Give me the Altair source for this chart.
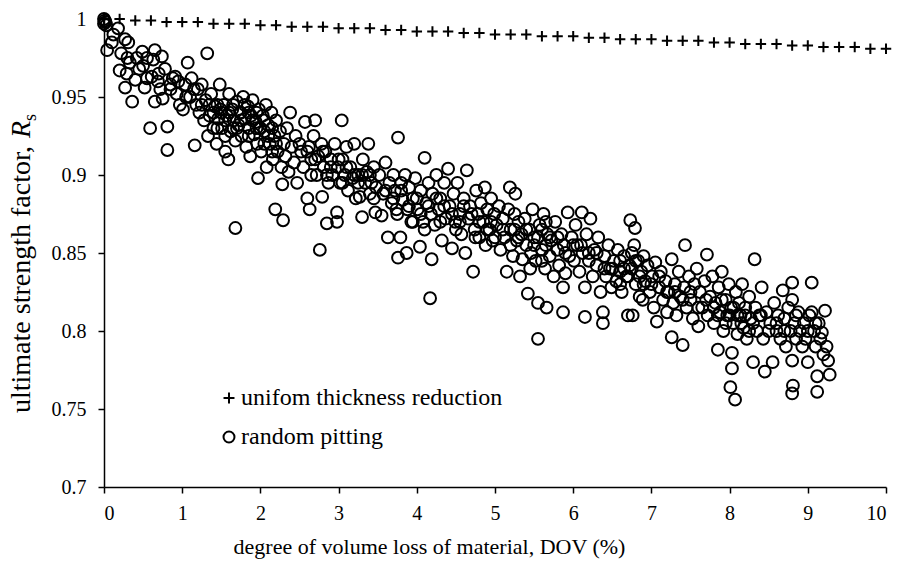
import altair as alt
import pandas as pd

# uniform thickness reduction (crosses)
uni_dov = [0.0, 0.2, 0.4, 0.6, 0.8, 1.0, 1.2, 1.4, 1.6, 1.8, 2.0, 2.2, 2.4, 2.6, 2.8,
           3.0, 3.2, 3.4, 3.6, 3.8, 4.0, 4.2, 4.4, 4.6, 4.8, 5.0, 5.2, 5.4, 5.6, 5.8,
           6.0, 6.2, 6.4, 6.6, 6.8, 7.0, 7.2, 7.4, 7.6, 7.8, 8.0, 8.2, 8.4, 8.6, 8.8,
           9.0, 9.2, 9.4, 9.6, 9.8, 10.0]
uni_rs = [1.000, 1.000, 0.999, 0.999, 0.998, 0.998, 0.998, 0.997, 0.997, 0.997, 0.996,
          0.996, 0.995, 0.995, 0.995, 0.994, 0.994, 0.994, 0.993, 0.993, 0.992, 0.992,
          0.992, 0.991, 0.991, 0.990, 0.990, 0.990, 0.989, 0.989, 0.989, 0.988, 0.988,
          0.987, 0.987, 0.987, 0.986, 0.986, 0.986, 0.985, 0.985, 0.984, 0.984, 0.984,
          0.983, 0.983, 0.982, 0.982, 0.982, 0.981, 0.981]

# random pitting (circles): [DOV, Rs]
pit_a = [(0, 1), (0.01, 0.999), (0.02, 0.998), (0.03, 0.996), (0.0, 0.997), (0.04, 0.98),
         (0.1, 0.985), (0.12, 0.99), (0.18, 0.994), (0.2, 0.967), (0.22, 0.978), (0.27, 0.987),
         (0.29, 0.965), (0.27, 0.956), (0.31, 0.985), (0.33, 0.972), (0.36, 0.947), (0.4, 0.961),
         (0.42, 0.975), (0.45, 0.968),
         (0.49, 0.979), (0.52, 0.956), (0.55, 0.962), (0.59, 0.93), (0.61, 0.963), (0.63, 0.974),
         (0.65, 0.98), (0.65, 0.947), (0.69, 0.96), (0.72, 0.955), (0.74, 0.976), (0.75, 0.949),
         (0.78, 0.968), (0.81, 0.931), (0.81, 0.916), (0.85, 0.958), (0.88, 0.962), (0.91, 0.963),
         (0.93, 0.952), (0.97, 0.945)]
pit_b = [(1.01, 0.942), (1.04, 0.958), (1.07, 0.972), (1.1, 0.95), (1.12, 0.962), (1.16, 0.919),
         (1.18, 0.945), (1.2, 0.955), (1.22, 0.94), (1.25, 0.958), (1.28, 0.935), (1.3, 0.948),
         (1.32, 0.978), (1.33, 0.925), (1.35, 0.938), (1.37, 0.952), (1.4, 0.93), (1.42, 0.944),
         (1.44, 0.92), (1.46, 0.936), (1.48, 0.958), (1.49, 0.942),
         (1.51, 0.93), (1.53, 0.945), (1.55, 0.915), (1.57, 0.938), (1.59, 0.91), (1.6, 0.952),
         (1.62, 0.928), (1.64, 0.942), (1.66, 0.935), (1.68, 0.866), (1.68, 0.922), (1.7, 0.947),
         (1.72, 0.932), (1.74, 0.94), (1.76, 0.925), (1.78, 0.95), (1.8, 0.936), (1.82, 0.918),
         (1.84, 0.944), (1.85, 0.93), (1.87, 0.912), (1.88, 0.938), (1.9, 0.948), (1.92, 0.926),
         (1.94, 0.934), (1.96, 0.92), (1.97, 0.898), (1.98, 0.942), (1.99, 0.93)]
pit_c = [(2.01, 0.915), (2.03, 0.938), (2.05, 0.928), (2.07, 0.945), (2.08, 0.905), (2.1, 0.932),
         (2.12, 0.92), (2.14, 0.94), (2.16, 0.91), (2.18, 0.925), (2.19, 0.878), (2.2, 0.935),
         (2.22, 0.915), (2.25, 0.928), (2.27, 0.905), (2.28, 0.894), (2.29, 0.871), (2.3, 0.92),
         (2.32, 0.912), (2.34, 0.93), (2.36, 0.902), (2.38, 0.94), (2.4, 0.918), (2.43, 0.908),
         (2.45, 0.925), (2.47, 0.895),
         (2.52, 0.915), (2.55, 0.905), (2.57, 0.934), (2.6, 0.885), (2.62, 0.918), (2.63, 0.878),
         (2.65, 0.91), (2.68, 0.925), (2.7, 0.935), (2.72, 0.9), (2.74, 0.912), (2.76, 0.852),
         (2.78, 0.92), (2.79, 0.886), (2.81, 0.905), (2.83, 0.915), (2.85, 0.869), (2.87, 0.895),
         (2.9, 0.91), (2.92, 0.9), (2.95, 0.92), (2.98, 0.876), (2.98, 0.87), (2.99, 0.905)]
pit_d = [(3.02, 0.895), (3.04, 0.935), (3.05, 0.91), (3.08, 0.9), (3.1, 0.918), (3.12, 0.89),
         (3.15, 0.905), (3.18, 0.898), (3.2, 0.92), (3.22, 0.885), (3.25, 0.9), (3.27, 0.886),
         (3.3, 0.873), (3.31, 0.91), (3.34, 0.895), (3.36, 0.902), (3.38, 0.92), (3.4, 0.888),
         (3.42, 0.895), (3.45, 0.905), (3.47, 0.876), (3.48, 0.892),
         (3.52, 0.9), (3.55, 0.874), (3.57, 0.888), (3.6, 0.908), (3.63, 0.86), (3.65, 0.895),
         (3.68, 0.882), (3.7, 0.9), (3.72, 0.89), (3.74, 0.878), (3.76, 0.924), (3.76, 0.847),
         (3.79, 0.86), (3.8, 0.895), (3.82, 0.884), (3.85, 0.9), (3.87, 0.85), (3.88, 0.878),
         (3.9, 0.892), (3.93, 0.87), (3.95, 0.885), (3.98, 0.898)]
pit_e = [(4.01, 0.878), (4.04, 0.854), (4.05, 0.89), (4.08, 0.87), (4.1, 0.911), (4.12, 0.882),
         (4.15, 0.895), (4.17, 0.821), (4.18, 0.875), (4.19, 0.846), (4.2, 0.888), (4.23, 0.868),
         (4.25, 0.9), (4.28, 0.878), (4.3, 0.885), (4.32, 0.858), (4.35, 0.895), (4.37, 0.872),
         (4.4, 0.904), (4.42, 0.88), (4.45, 0.853), (4.47, 0.888), (4.49, 0.87),
         (4.52, 0.895), (4.55, 0.875), (4.57, 0.862), (4.6, 0.885), (4.62, 0.85), (4.64, 0.903),
         (4.66, 0.872), (4.68, 0.88), (4.72, 0.838), (4.74, 0.865), (4.76, 0.89), (4.78, 0.875),
         (4.8, 0.86), (4.82, 0.882), (4.85, 0.87), (4.87, 0.892), (4.88, 0.855), (4.9, 0.878),
         (4.93, 0.865), (4.95, 0.885), (4.97, 0.858), (4.99, 0.875)]
pit_f = [(5.02, 0.868), (5.05, 0.88), (5.07, 0.852), (5.1, 0.872), (5.12, 0.86), (5.15, 0.838),
         (5.17, 0.878), (5.19, 0.892), (5.2, 0.865), (5.23, 0.848), (5.25, 0.875), (5.26, 0.888),
         (5.28, 0.858), (5.3, 0.87), (5.32, 0.835), (5.34, 0.862), (5.35, 0.846), (5.38, 0.872),
         (5.4, 0.855), (5.42, 0.824), (5.44, 0.865), (5.46, 0.85), (5.48, 0.878),
         (5.5, 0.86), (5.52, 0.845), (5.55, 0.818), (5.55, 0.795), (5.57, 0.868), (5.6, 0.852),
         (5.62, 0.875), (5.64, 0.84), (5.66, 0.815), (5.67, 0.862), (5.7, 0.848), (5.72, 0.858),
         (5.75, 0.835), (5.77, 0.87), (5.8, 0.852), (5.82, 0.842), (5.85, 0.862), (5.87, 0.812),
         (5.87, 0.828), (5.88, 0.855), (5.9, 0.837), (5.93, 0.876), (5.95, 0.848), (5.98, 0.86)]
pit_g = [(6.01, 0.845), (6.03, 0.868), (6.05, 0.855), (6.08, 0.838), (6.11, 0.876), (6.12, 0.85),
         (6.15, 0.809), (6.15, 0.828), (6.17, 0.862), (6.2, 0.845), (6.22, 0.872), (6.25, 0.835),
         (6.27, 0.852), (6.3, 0.842), (6.32, 0.86), (6.35, 0.825), (6.38, 0.812), (6.38, 0.805),
         (6.4, 0.848), (6.42, 0.835), (6.45, 0.855), (6.47, 0.84), (6.49, 0.828),
         (6.52, 0.845), (6.55, 0.832), (6.57, 0.852), (6.6, 0.838), (6.62, 0.825), (6.65, 0.848),
         (6.68, 0.835), (6.7, 0.81), (6.72, 0.842), (6.73, 0.871), (6.76, 0.81), (6.78, 0.855),
         (6.79, 0.866), (6.8, 0.83), (6.83, 0.845), (6.85, 0.822), (6.87, 0.838), (6.89, 0.82),
         (6.9, 0.848), (6.92, 0.832), (6.95, 0.842), (6.98, 0.825)]
pit_h = [(7.01, 0.835), (7.03, 0.815), (7.05, 0.844), (7.07, 0.806), (7.1, 0.828), (7.12, 0.838),
         (7.15, 0.82), (7.18, 0.832), (7.2, 0.812), (7.22, 0.825), (7.26, 0.846), (7.26, 0.796),
         (7.28, 0.818), (7.3, 0.83), (7.32, 0.81), (7.35, 0.838), (7.37, 0.822), (7.4, 0.791),
         (7.42, 0.828), (7.43, 0.855), (7.45, 0.815), (7.48, 0.835),
         (7.5, 0.82), (7.53, 0.808), (7.55, 0.83), (7.58, 0.84), (7.6, 0.803), (7.62, 0.825),
         (7.65, 0.815), (7.68, 0.832), (7.71, 0.849), (7.72, 0.81), (7.75, 0.822), (7.78, 0.835),
         (7.8, 0.805), (7.82, 0.818), (7.85, 0.788), (7.86, 0.828), (7.88, 0.812), (7.9, 0.838),
         (7.92, 0.8), (7.95, 0.82), (7.97, 0.81), (7.99, 0.83)]
pit_i = [(8.01, 0.764), (8.02, 0.815), (8.03, 0.786), (8.03, 0.776), (8.05, 0.805), (8.07, 0.756),
         (8.08, 0.825), (8.1, 0.798), (8.12, 0.818), (8.14, 0.81), (8.16, 0.83), (8.18, 0.802),
         (8.2, 0.815), (8.22, 0.795), (8.25, 0.822), (8.27, 0.808), (8.3, 0.78), (8.32, 0.846),
         (8.33, 0.815), (8.35, 0.8), (8.38, 0.81), (8.41, 0.828), (8.43, 0.795), (8.45, 0.774),
         (8.47, 0.812),
         (8.52, 0.805), (8.55, 0.78), (8.57, 0.818), (8.6, 0.8), (8.62, 0.81), (8.65, 0.795),
         (8.68, 0.826), (8.7, 0.808), (8.72, 0.79), (8.75, 0.815), (8.78, 0.8), (8.8, 0.831),
         (8.8, 0.82), (8.8, 0.781), (8.81, 0.765), (8.8, 0.76), (8.83, 0.805), (8.85, 0.795),
         (8.88, 0.812), (8.9, 0.8), (8.93, 0.79), (8.95, 0.805), (8.97, 0.795), (9.0, 0.78)]
pit_j = [(9.02, 0.81), (9.05, 0.831), (9.05, 0.812), (9.08, 0.8), (9.1, 0.79), (9.12, 0.761),
         (9.12, 0.771), (9.14, 0.805), (9.16, 0.795), (9.18, 0.799), (9.2, 0.785), (9.22, 0.813),
         (9.24, 0.79), (9.26, 0.781), (9.28, 0.772)]
# dense cores of the cloud
pit_k = [(0.3, 0.975), (0.5, 0.97), (0.55, 0.975), (0.7, 0.965), (0.85, 0.955), (0.95, 0.96),
         (1.05, 0.95), (1.15, 0.955), (1.25, 0.945),
         (1.35, 0.945), (1.4, 0.94), (1.45, 0.93), (1.5, 0.94), (1.55, 0.935), (1.6, 0.94),
         (1.65, 0.945), (1.7, 0.93), (1.75, 0.935), (1.8, 0.945), (1.85, 0.94), (1.9, 0.935),
         (1.95, 0.94), (2.0, 0.93), (2.05, 0.935), (2.1, 0.925), (2.15, 0.93), (2.2, 0.92),
         (1.45, 0.945), (1.55, 0.925), (1.65, 0.93), (1.75, 0.94), (1.85, 0.925), (1.95, 0.93),
         (2.05, 0.92), (2.15, 0.915),
         (2.5, 0.92), (2.6, 0.915), (2.7, 0.91), (2.8, 0.915), (2.9, 0.905), (3.0, 0.91),
         (3.1, 0.905), (3.2, 0.9), (3.3, 0.9), (3.4, 0.9), (2.65, 0.9), (2.85, 0.9),
         (3.05, 0.895), (3.25, 0.895), (3.45, 0.885)]
pit_l = [(3.6, 0.89), (3.7, 0.885), (3.8, 0.89), (3.9, 0.88), (4.0, 0.885), (4.05, 0.875),
         (4.15, 0.88), (4.25, 0.885), (4.35, 0.88), (4.45, 0.875), (4.55, 0.87), (4.6, 0.88),
         (4.7, 0.875), (4.8, 0.87), (4.9, 0.865), (3.75, 0.875), (3.95, 0.87), (4.1, 0.865),
         (4.3, 0.87), (4.5, 0.865), (4.75, 0.86), (4.95, 0.87),
         (5.0, 0.86), (5.1, 0.865), (5.2, 0.855), (5.3, 0.86), (5.4, 0.865), (5.5, 0.855),
         (5.55, 0.86), (5.6, 0.865), (5.65, 0.855), (5.7, 0.86), (5.6, 0.845), (5.65, 0.87),
         (5.8, 0.86), (5.9, 0.85), (6.0, 0.855), (5.25, 0.865), (5.45, 0.84)]
pit_m = [(6.1, 0.855), (6.2, 0.85), (6.3, 0.85), (6.4, 0.84), (6.5, 0.84), (6.6, 0.845),
         (6.65, 0.84), (6.7, 0.835), (6.75, 0.84), (6.8, 0.845), (6.85, 0.835), (6.9, 0.83),
         (7.0, 0.83), (7.1, 0.835), (7.2, 0.825), (6.6, 0.83), (6.75, 0.85),
         (7.3, 0.825), (7.4, 0.82), (7.5, 0.825), (7.6, 0.815), (7.7, 0.82), (7.8, 0.815),
         (7.85, 0.81), (7.9, 0.82), (7.95, 0.805), (8.0, 0.81), (8.05, 0.815), (8.1, 0.81),
         (8.15, 0.805), (8.2, 0.81), (8.25, 0.8), (8.3, 0.805), (8.4, 0.81), (8.5, 0.8),
         (8.6, 0.805), (8.7, 0.8), (8.85, 0.81), (9.0, 0.8), (9.1, 0.805)]

SER_UNI = "unifom thickness reduction"
SER_PIT = "random pitting"

pit_all = (pit_a + pit_b + pit_c + pit_d + pit_e + pit_f + pit_g + pit_h + pit_i + pit_j
           + pit_k + pit_l + pit_m)
df_uni = pd.DataFrame({"DOV": uni_dov, "Rs": uni_rs, "series": SER_UNI})
df_pit = pd.DataFrame({"DOV": [p[0] for p in pit_all], "Rs": [p[1] for p in pit_all],
                       "series": SER_PIT})

FONT = "Liberation Serif"
PLUS = "M-1,0L1,0M0,-1L0,1"

shape_scale = alt.Scale(domain=[SER_UNI, SER_PIT], range=[PLUS, "circle"])
legend = alt.Legend(
    title=None, orient="none", legendX=113, legendY=367, direction="vertical",
    labelFont=FONT, labelFontSize=24, labelColor="black", labelOffset=0, labelLimit=0,
    symbolSize=120, symbolStrokeWidth=2, symbolStrokeColor="black",
    symbolFillColor="transparent", rowPadding=15, padding=0,
)

xenc = alt.X("DOV:Q", scale=alt.Scale(domain=[0, 10], nice=False),
             axis=alt.Axis(values=list(range(0, 11)), format="d",
                           labelFont=FONT, titleFont=FONT,
                           title="degree of volume loss of material, DOV (%)",
                           titleFontSize=22,
                           titleX=325, titleY=66, titleBaseline="alphabetic",
                           titleAnchor="start", titleAlign="center"))
yenc = alt.Y("Rs:Q", scale=alt.Scale(domain=[0.7, 1.0], nice=False, zero=False),
             axis=alt.Axis(values=[0.7, 0.75, 0.8, 0.85, 0.9, 0.95, 1.0], format=".2~f",
                           labelFont=FONT, title=None))

crosses = alt.Chart(df_uni).mark_point(
    filled=False, size=110, strokeWidth=2, color="black", opacity=1
).encode(x=xenc, y=yenc, shape=alt.Shape("series:N", scale=shape_scale, legend=legend))

circles = alt.Chart(df_pit).mark_point(
    filled=False, size=140, strokeWidth=2, color="black", opacity=1
).encode(x=xenc, y=yenc, shape=alt.Shape("series:N", scale=shape_scale, legend=legend))

# y-axis title with italic R and subscript s
t_main = alt.Chart(pd.DataFrame({"t": ["ultimate strength factor, "]})).mark_text(
    font=FONT, fontSize=28, angle=270, align="left", baseline="alphabetic", color="black"
).encode(text="t:N", x=alt.value(-74), y=alt.value(394))
t_r = alt.Chart(pd.DataFrame({"t": ["R"]})).mark_text(
    font=FONT, fontSize=28, fontStyle="italic", angle=270, align="left",
    baseline="alphabetic", color="black"
).encode(text="t:N", x=alt.value(-74), y=alt.value(119))
t_s = alt.Chart(pd.DataFrame({"t": ["s"]})).mark_text(
    font=FONT, fontSize=18, angle=270, align="left", baseline="alphabetic", color="black"
).encode(text="t:N", x=alt.value(-68), y=alt.value(102))

chart = alt.layer(crosses, circles, t_main, t_r, t_s).properties(
    width=782, height=468,
    autosize=alt.AutoSizeParams(type="none"),
    padding={"left": 104, "top": 19, "right": 13, "bottom": 82},
).configure_view(stroke=None).configure_axis(
    grid=False, domainColor="black", domainWidth=1.5, tickColor="black", tickWidth=1.5,
    tickSize=6, labelFont=FONT, labelFontSize=20, labelColor="black", labelPadding=10,
    titleFont=FONT, titleFontSize=22, titleColor="black", titleFontWeight="normal",
).configure_axisY(labelPadding=12).configure_legend(
    labelFont=FONT, labelFontSize=24, labelLimit=0
)

chart.save("out.html", embed_options={"renderer": "svg", "actions": False})
